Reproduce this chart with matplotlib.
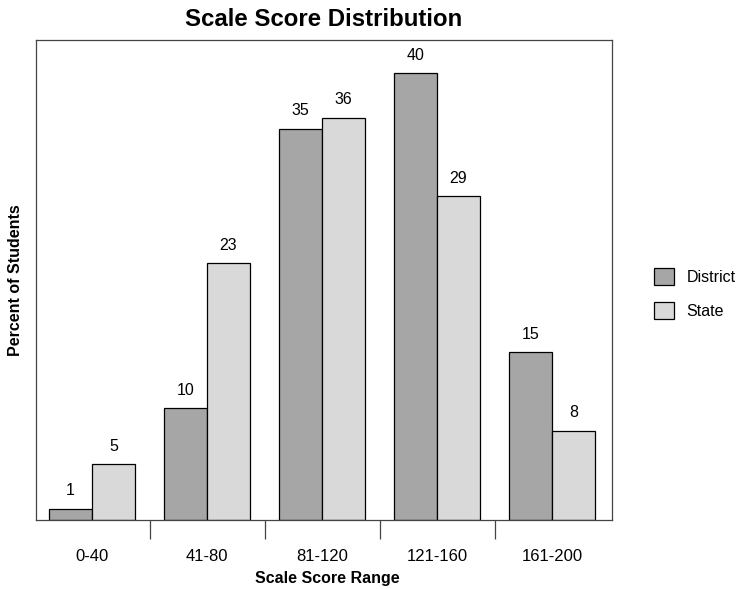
import matplotlib
matplotlib.use("Agg")
import matplotlib.pyplot as plt
import numpy as np
from matplotlib.patches import Patch

plt.rcParams['font.family'] = ['Liberation Sans', 'DejaVu Sans']

categories = ["0-40", "41-80", "81-120", "121-160", "161-200"]
district = [1, 10, 35, 40, 15]
state = [5, 23, 36, 29, 8]
series_names = ["District", "State"]
colors = ["#A6A6A6", "#D9D9D9"]

fig = plt.figure(figsize=(7.36, 5.89), dpi=100)
W, H = 736, 589
ax = fig.add_axes([36 / W, (H - 520) / H, (612 - 36) / W, (520 - 40) / H])

P = 115 / 43
centers = np.arange(len(categories)) * P
ax.bar(centers - 0.5, district, width=1, color=colors[0], edgecolor="black", linewidth=0.9)
ax.bar(centers + 0.5, state, width=1, color=colors[1], edgecolor="black", linewidth=0.9)

for c, d, s in zip(centers, district, state):
    ax.text(c - 0.5, d + 1.6, str(d), ha="center", va="center", fontsize=11.5)
    ax.text(c + 0.5, s + 1.6, str(s), ha="center", va="center", fontsize=11.5)

ax.set_xlim((36 - 92) / 43, (612 - 92) / 43)
ax.set_ylim(0, (520 - 40) / 11.175)

ax.set_xticks(centers)
ax.set_xticklabels(categories, fontsize=12)
ax.tick_params(axis="x", which="major", length=0, pad=21)
ax.set_xticks(centers[:-1] + P / 2, minor=True)
ax.tick_params(axis="x", which="minor", length=14, width=0.9, color="#444444", direction="out")
ax.set_yticks([])

for sp in ax.spines.values():
    sp.set_color("#444444")
    sp.set_linewidth(0.9)

fig.text(324 / W, 1 - 19 / H, "Scale Score Distribution", fontsize=17.3, fontweight="bold",
         ha="center", va="center")
fig.text(327 / W, 1 - 578 / H, "Scale Score Range", fontsize=11.5, fontweight="bold",
         ha="center", va="center")
fig.text(16 / W, 1 - 280 / H, "Percent of Students", fontsize=11.5, fontweight="bold",
         ha="center", va="center", rotation=90)

handles = [Patch(facecolor=colors[0], edgecolor="black", linewidth=0.9),
           Patch(facecolor=colors[1], edgecolor="black", linewidth=0.9)]
fig.legend(handles, series_names, loc="center left", bbox_to_anchor=(639.5 / W, 1 - 293.5 / H),
           frameon=False, fontsize=11.5, handlelength=1.25, handleheight=1.25,
           handletextpad=0.8, labelspacing=1.05, borderpad=0.4)

fig.savefig("out.png", dpi=100)
